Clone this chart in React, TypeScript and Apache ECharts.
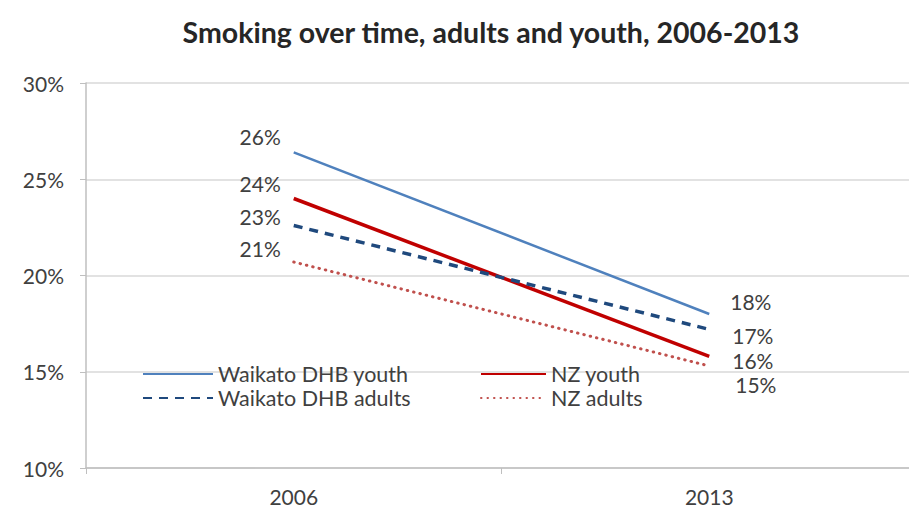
import React, { useEffect, useRef } from "react";
import * as echarts from "echarts";

const years = ["2006", "2013"];
const waikatoYouth = [26.4, 18.0];
const nzYouth = [24.0, 15.8];
const waikatoAdults = [22.6, 17.2];
const nzAdults = [20.7, 15.3];
const yTicks = { min: 10, max: 30, step: 5 };

const FONT = "Lato";

// label nudges for the start and end points of each line
const labelNudge: Record<string, [number, number][]> = {
  "Waikato DHB youth": [[-8, -16], [16, -13]],
  "NZ youth": [[-8, -15], [18, 4]],
  "Waikato DHB adults": [[-8, -9], [18, 6]],
  "NZ adults": [[-8, -14], [21, 19]],
};

function makeSeries(name: string, values: number[], color: string, width: number, type: any, cap: any = "butt") {
  return {
    name,
    type: "line",
    symbol: "circle",
    symbolSize: 0,
    showSymbol: true,
    data: values.map((v, i) => ({
      value: v,
      label: {
        show: true,
        position: i === 0 ? "left" : "right",
        offset: labelNudge[name][i],
        formatter: (p: any) => Math.round(p.value) + "%",
        color: "#404040",
        fontFamily: FONT,
        fontSize: 21,
      },
    })),
    lineStyle: { color, width, type, cap },
    itemStyle: { color },
  };
}

export default function App() {
  const ref = useRef<HTMLDivElement>(null);
  useEffect(() => {
    const chart = echarts.init(ref.current!, null, { renderer: "svg" });
    const legendText = { fontFamily: FONT, fontSize: 21.5, color: "#404040", lineHeight: 22 };
    const legendBase = {
      orient: "vertical",
      top: 363,
      itemHeight: 14,
      itemGap: 2,
      textStyle: legendText,
      padding: 0,
      itemStyle: { opacity: 0 },
    };
    chart.setOption({
      animation: false,
      backgroundColor: "#ffffff",
      title: {
        text: "Smoking over time, adults and youth, 2006-2013",
        left: 486,
        top: 12,
        textAlign: "center",
        textStyle: { fontFamily: FONT, fontWeight: "bold", fontSize: 28.5, color: "#262626" },
      },
      legend: [
        { ...legendBase, data: ["Waikato DHB youth", "Waikato DHB adults"], left: 142, itemWidth: 70 },
        { ...legendBase, data: ["NZ youth", "NZ adults"], left: 480, itemWidth: 65 },
      ],
      grid: { left: 86, top: 83, width: 850, height: 385, containLabel: false },
      xAxis: {
        type: "category",
        data: years,
        boundaryGap: true,
        axisLine: { lineStyle: { color: "#bfbfbf", width: 1.5 } },
        axisTick: { show: true, length: 6, lineStyle: { color: "#bfbfbf" } },
        axisLabel: { fontFamily: FONT, fontSize: 21, color: "#404040", margin: 18 },
      },
      yAxis: {
        type: "value",
        min: yTicks.min,
        max: yTicks.max,
        interval: yTicks.step,
        axisLine: { show: true, lineStyle: { color: "#bfbfbf", width: 1.5 } },
        axisTick: { show: true, length: 6, lineStyle: { color: "#bfbfbf" } },
        axisLabel: { formatter: "{value}%", fontFamily: FONT, fontSize: 21, color: "#404040", margin: 22 },
        splitLine: { lineStyle: { color: "#d9d9d9", width: 1.5 } },
      },
      series: [
        makeSeries("Waikato DHB youth", waikatoYouth, "#4f81bd", 2.5, "solid"),
        makeSeries("NZ youth", nzYouth, "#c00000", 3.5, "solid"),
        makeSeries("Waikato DHB adults", waikatoAdults, "#1f497d", 3.5, [9, 7]),
        makeSeries("NZ adults", nzAdults, "#c0504d", 3, [0.5, 6], "round"),
      ],
    });
    return () => chart.dispose();
  }, []);
  return <div ref={ref} style={{ width: 917, height: 515, margin: -8 }} />;
}
